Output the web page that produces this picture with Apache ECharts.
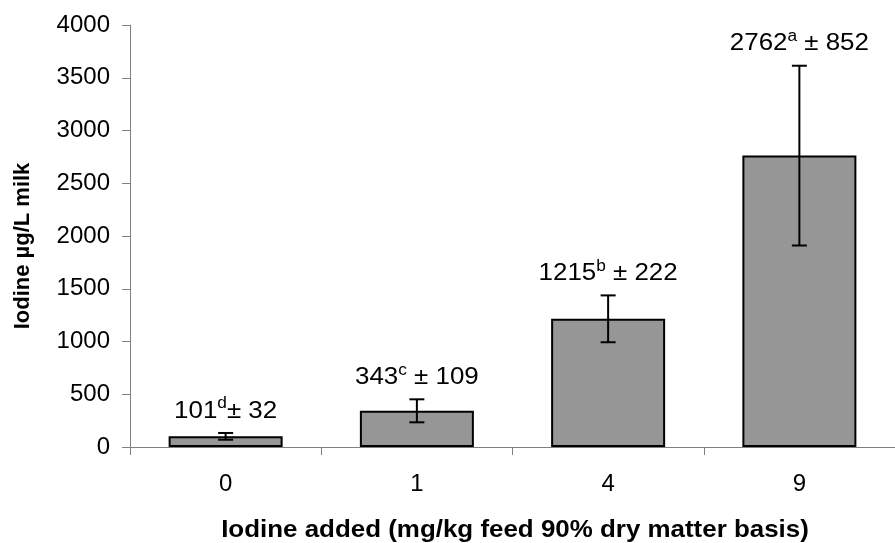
<!DOCTYPE html>
<html>
<head>
<meta charset="utf-8">
<script src="https://cdn.jsdelivr.net/npm/echarts@6/dist/echarts.min.js"></script>
<style>
  html, body { margin: 0; padding: 0; background: #fff; }
  #chart { width: 895px; height: 543px; }
</style>
</head>
<body>
<div id="chart"></div>
<script>
// Iodine added to feed (mg/kg, 90% DM basis)
const categories = ['0', '1', '4', '9'];
// Mean milk iodine (µg/L) and its ± spread
const means = [101, 343, 1215, 2762];
const spreads = [32, 109, 222, 852];
// Significance letters shown as superscripts
const letters = ['d', 'c', 'b', 'a'];
const gaps = ['', ' ', ' ', ' '];
const yTicks = [0, 500, 1000, 1500, 2000, 2500, 3000, 3500, 4000];

const FONT = 'Liberation Sans, Arial, sans-serif';
const WIDE = 1.08; // slightly widened lettering

const chart = echarts.init(document.getElementById('chart'), null, { renderer: 'canvas' });

function errorItem(params, api) {
  const i = api.value(0);
  const m = api.value(1);
  const s = api.value(2);
  const top = api.coord([i, m + s]);
  const bot = api.coord([i, m - s]);
  const cap = 7.5;
  const line = { stroke: '#000', lineWidth: 2 };
  return {
    type: 'group',
    children: [
      { type: 'line', shape: { x1: top[0], y1: top[1], x2: bot[0], y2: bot[1] }, style: line },
      { type: 'line', shape: { x1: top[0] - cap, y1: top[1], x2: top[0] + cap, y2: top[1] }, style: line },
      { type: 'line', shape: { x1: bot[0] - cap, y1: bot[1], x2: bot[0] + cap, y2: bot[1] }, style: line },
      {
        type: 'text',
        x: top[0],
        y: top[1] - 22,
        scaleX: WIDE,
        style: {
          text: '{n|' + means[i] + '}{s|' + letters[i] + '}{n|' + gaps[i] + '± ' + spreads[i] + '}',
          align: 'center',
          verticalAlign: 'middle',
          rich: {
            n: { fontFamily: FONT, fontSize: 24, fill: '#000', lineHeight: 30 },
            s: { fontFamily: FONT, fontSize: 16, fill: '#000', verticalAlign: 'top', lineHeight: 16 }
          }
        }
      }
    ]
  };
}

chart.setOption({
  animation: false,
  backgroundColor: '#fff',
  grid: { left: 130, right: -5, top: 25, bottom: 96, containLabel: false },
  xAxis: {
    type: 'category',
    data: categories,
    boundaryGap: true,
    axisLine: { lineStyle: { color: '#808080', width: 1 } },
    axisTick: { show: true, length: 8, interval: 0, lineStyle: { color: '#808080' } },
    axisLabel: { fontFamily: FONT, fontSize: 24, color: '#000', margin: 25 }
  },
  yAxis: {
    type: 'value',
    min: yTicks[0],
    max: yTicks[yTicks.length - 1],
    interval: yTicks[1] - yTicks[0],
    axisLine: { show: true, lineStyle: { color: '#808080', width: 1 } },
    axisTick: { show: true, length: 8, lineStyle: { color: '#808080' } },
    splitLine: { show: false },
    axisLabel: {
      fontFamily: FONT, fontSize: 24, color: '#000', margin: 20,
      formatter: v => String(v)
    }
  },
  series: [
    {
      type: 'bar',
      data: means,
      barWidth: 114,
      itemStyle: { color: '#969696', borderColor: '#000', borderWidth: 2 },
      z: 2
    },
    {
      type: 'custom',
      data: means.map((m, i) => [i, m, spreads[i]]),
      renderItem: errorItem,
      z: 3
    }
  ],
  graphic: [
    {
      type: 'text',
      x: 515,
      y: 530,
      scaleX: WIDE,
      style: {
        text: 'Iodine added (mg/kg feed 90% dry matter basis)',
        fontFamily: FONT, fontSize: 24, fontWeight: 'bold', fill: '#000',
        align: 'center', verticalAlign: 'middle'
      }
    },
    {
      type: 'text',
      x: 23,
      y: 246,
      rotation: Math.PI / 2,
      style: {
        text: 'Iodine µg/L milk',
        fontFamily: FONT, fontSize: 22, fontWeight: 'bold', fill: '#000',
        align: 'center', verticalAlign: 'middle'
      }
    }
  ]
});
</script>
</body>
</html>
